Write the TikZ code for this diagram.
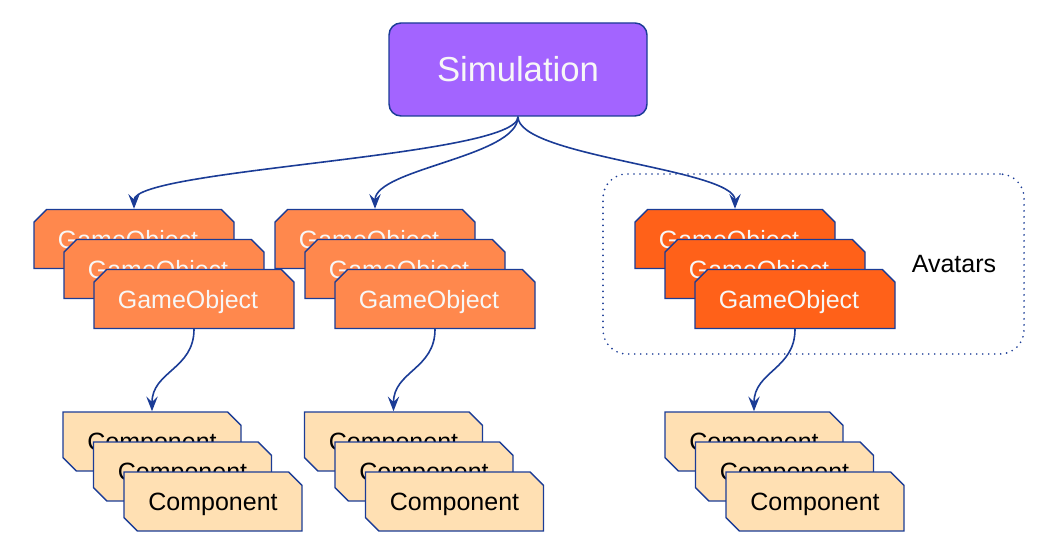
\documentclass[tikz,border=0pt]{standalone}
\usepackage{fontspec}
\setmainfont{Liberation Sans}
\usepackage{tikz}
\usetikzlibrary{shapes.misc,arrows.meta}
\definecolor{edgeblue}{HTML}{1B3C96}
\definecolor{simviolet}{HTML}{A364FF}
\definecolor{goorange}{HTML}{FF884D}
\definecolor{avorange}{HTML}{FF6119}
\definecolor{comppeach}{HTML}{FFE0B3}
\begin{document}
\begin{tikzpicture}[x=0.75pt,y=0.75pt,
  sim/.style={draw=edgeblue,line width=1.1pt,fill=simviolet,rounded corners=9pt,
    minimum width=193.5pt,minimum height=69.75pt,text=white!97!black,
    font=\fontsize{26}{30}\selectfont},
  gobj/.style={chamfered rectangle,chamfered rectangle corners={north west,north east},
    chamfered rectangle xsep=6pt,inner sep=0pt,draw=edgeblue,line width=1.1pt,fill=goorange,
    minimum width=150pt,minimum height=44.25pt,text=white!97!black,text depth=0pt,
    font=\fontsize{18.75}{22}\selectfont,execute at end node={\hspace*{9pt}}},
  avatar/.style={gobj,fill=avorange},
  comp/.style={chamfered rectangle,chamfered rectangle corners={north east,south west},
    chamfered rectangle xsep=6.5pt,inner sep=0pt,draw=edgeblue,line width=1.1pt,fill=comppeach,
    minimum width=133.5pt,minimum height=44.25pt,text depth=0pt,font=\fontsize{18.75}{22}\selectfont},
  group/.style={draw=edgeblue,line width=1.4pt,line cap=round,dash pattern=on 0pt off 4.5pt,
    rounded corners=18pt,minimum width=315.75pt,minimum height=135pt},
  link/.style={draw=edgeblue,line width=1.2pt,-{Stealth[length=11pt,width=8.5pt,inset=4pt]},
    out=-90,in=90,distance=30pt}]
\useasboundingbox (0,0) rectangle (1052,557);

\node[group] (avbox) at (813.5,293) {};
\node[font=\fontsize{18.75}{22}\selectfont] (avlabel) at (954,293) {Avatars};

\node[sim] (sim) at (518,487.5) {Simulation};

% game objects
\node[gobj] (go1a) at (134,318) {GameObject};
\node[gobj] (go1b) at (164,288) {GameObject};
\node[gobj] (go1c) at (194,258) {GameObject};
\node[gobj] (go2a) at (375,318) {GameObject};
\node[gobj] (go2b) at (405,288) {GameObject};
\node[gobj] (go2c) at (435,258) {GameObject};
\node[avatar] (go3a) at (735,318) {GameObject};
\node[avatar] (go3b) at (765,288) {GameObject};
\node[avatar] (go3c) at (795,258) {GameObject};

% components
\node[comp] (co1a) at (152,115.5) {Component};
\node[comp] (co1b) at (182.5,85.5) {Component};
\node[comp] (co1c) at (213,55.5) {Component};
\node[comp] (co2a) at (393.5,115.5) {Component};
\node[comp] (co2b) at (424,85.5) {Component};
\node[comp] (co2c) at (454.5,55.5) {Component};
\node[comp] (co3a) at (754,115.5) {Component};
\node[comp] (co3b) at (784.5,85.5) {Component};
\node[comp] (co3c) at (815,55.5) {Component};

\draw[link] (sim.south) to (go1a.north);
\draw[link] (sim.south) to (go2a.north);
\draw[link] (sim.south) to (go3a.north);
\draw[link] (go1c.south) to (co1a.north);
\draw[link] (go2c.south) to (co2a.north);
\draw[link] (go3c.south) to (co3a.north);
\end{tikzpicture}
\end{document}
